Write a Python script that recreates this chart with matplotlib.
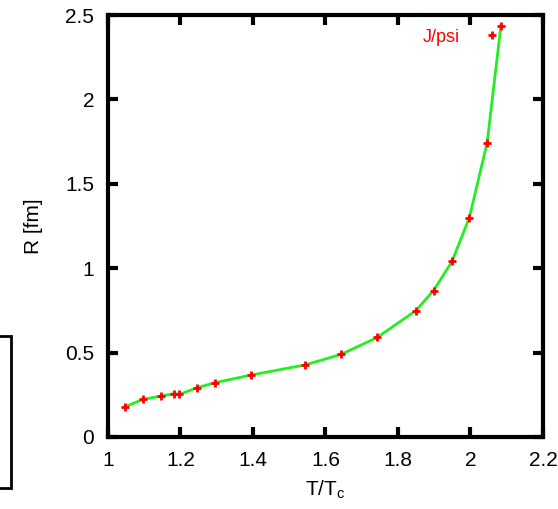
import matplotlib
matplotlib.use("Agg")
from matplotlib import pyplot as plt
from matplotlib.lines import Line2D
from matplotlib.patches import Rectangle

# J/psi radius vs temperature
t_ratio = [1.048, 1.097, 1.147, 1.183, 1.197, 1.246, 1.296, 1.395,
           1.544, 1.644, 1.743, 1.849, 1.898, 1.949, 1.997, 2.046, 2.084]
radius = [0.180, 0.223, 0.243, 0.257, 0.252, 0.292, 0.322, 0.367,
          0.427, 0.490, 0.590, 0.748, 0.867, 1.040, 1.300, 1.744, 2.437]

x_ticks = [1, 1.2, 1.4, 1.6, 1.8, 2, 2.2]
x_tick_labels = ["1", "1.2", "1.4", "1.6", "1.8", "2", "2.2"]
y_ticks = [0, 0.5, 1, 1.5, 2, 2.5]
y_tick_labels = ["0", "0.5", "1", "1.5", "2", "2.5"]

plt.rcParams['font.family'] = ['Liberation Sans', 'DejaVu Sans']

fig = plt.figure(figsize=(5.58, 5.09), dpi=100)
ax = fig.add_axes([0.1935, 0.1415, 0.7796, 0.829])

ax.plot(t_ratio, radius, color="#22ee22", lw=2, zorder=2)
ax.plot(t_ratio, radius, ls="none", marker="+", color="red",
        ms=6, mew=2, zorder=3)

ax.set_xlim(1, 2.2)
ax.set_ylim(0, 2.5)
ax.set_xticks(x_ticks)
ax.set_xticklabels(x_tick_labels)
ax.set_yticks(y_ticks)
ax.set_yticklabels(y_tick_labels)

for s in ax.spines.values():
    s.set_linewidth(3)
ax.tick_params(direction="in", length=7, width=3, top=True, right=True,
               labelsize=15, pad=10)

ax.set_xlabel("T/T$_\\mathregular{c}$", fontsize=15, labelpad=6)
ax.set_ylabel("R [fm]", fontsize=15, labelpad=16)

key = Line2D([], [], ls="none", marker="+", color="red", ms=6, mew=2)
ax.legend(handles=[key], labels=["J/psi"], loc="upper right",
          bbox_to_anchor=(0.92, 0.985), frameon=False, markerfirst=False,
          labelcolor="red", fontsize=13, handlelength=1.0,
          handletextpad=1.3, borderaxespad=0)

# piece of the neighbouring panel's frame at the left edge
fig.patches.append(Rectangle((-10, 21), 21, 152, transform=None,
                             fill=False, lw=2, ec="black"))

fig.savefig("out.png", dpi=100)
